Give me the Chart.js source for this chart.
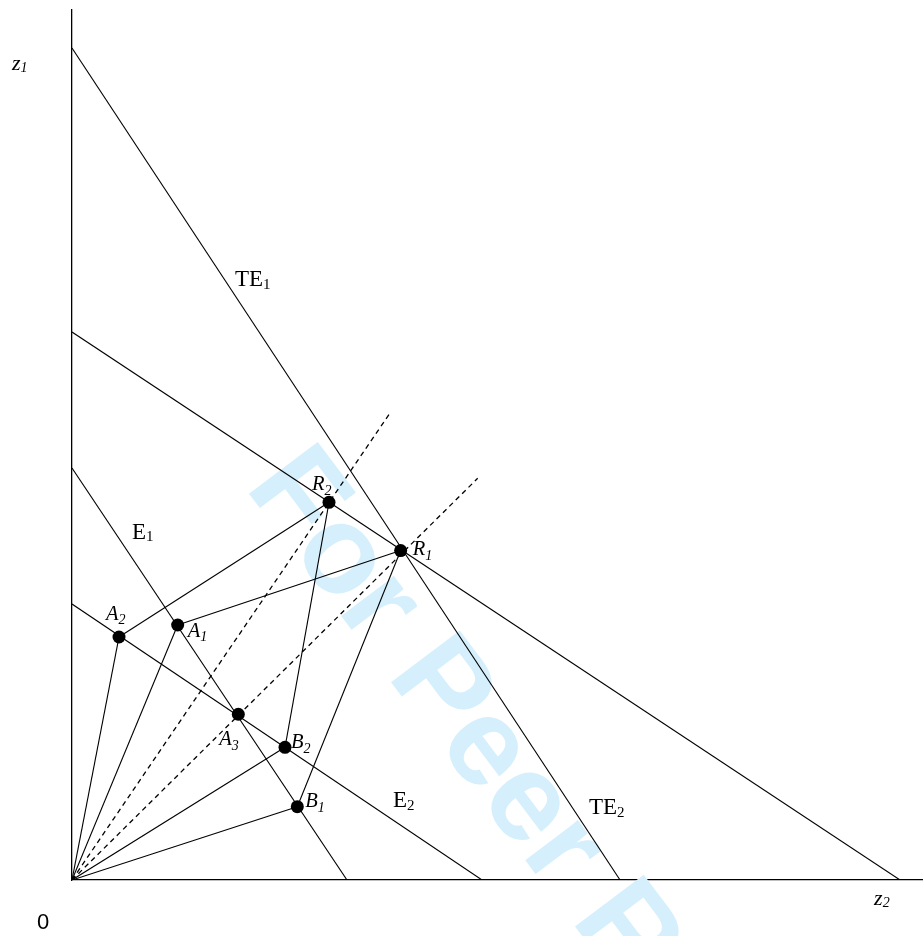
<!DOCTYPE html>
<html><head><meta charset="utf-8">
<script src="https://cdn.jsdelivr.net/npm/chart.js@4.4.0/dist/chart.umd.min.js"></script>
<style>html,body{margin:0;padding:0;background:#fff;} canvas{display:block;}</style>
</head><body>
<canvas id="c" width="923" height="936"></canvas>
<script>
// ---- data (chart units) ----
const pointNames = ['R1', 'R2', 'A1', 'A2', 'A3', 'B1', 'B2'];
const pointX = [3.950, 3.089, 1.270, 0.565, 1.999, 2.708, 2.560];
const pointY = [3.960, 4.540, 3.065, 2.921, 1.992, 0.881, 1.595];

// straight frontier lines given by their axis intercepts
const lineNames = ['TE (steep)', 'TE (flat)', 'E1', 'E2'];
const lineXIntercept = [6.587, 9.952, 3.305, 4.928];
const lineYIntercept = [10.00, 6.587, 4.952, 3.317];

// solid rays from the origin
const raysTo = ['A2', 'A1', 'B2', 'B1'];
// connecting segments
const segFrom = ['A2', 'A1', 'R2', 'R1'];
const segTo = ['R2', 'R1', 'B2', 'B1'];
// dashed rays from the origin (end points)
const dashedX = [3.822, 4.876];
const dashedY = [5.613, 4.828];

// text labels for the lines: main text, subscript, anchor x, anchor y
const lineLabelText = ['TE', 'E', 'E', 'TE'];
const lineLabelSub = ['1', '1', '2', '2'];
const lineLabelX = [1.959, 0.721, 3.858, 6.214];
const lineLabelY = [7.139, 4.099, 0.877, 0.793];

const axisMaxX = 10.228, axisMaxY = 10.457;

// ---- build datasets ----
const P = {};
pointNames.forEach((n, i) => P[n] = {x: pointX[i], y: pointY[i]});

const datasets = [];
const solid = {borderColor: '#000', borderWidth: 1.1, pointRadius: 0, showLine: true, fill: false};
lineNames.forEach((n, i) => {
  datasets.push(Object.assign({label: n, data: [{x: 0, y: lineYIntercept[i]}, {x: lineXIntercept[i], y: 0}]}, solid));
});
raysTo.forEach(n => datasets.push(Object.assign({label: 'ray ' + n, data: [{x: 0, y: 0}, P[n]]}, solid)));
segFrom.forEach((n, i) => datasets.push(Object.assign({label: n + '-' + segTo[i], data: [P[n], P[segTo[i]]]}, solid)));
dashedX.forEach((x, i) => datasets.push({label: 'dashed ' + i, data: [{x: 0, y: 0}, {x: x, y: dashedY[i]}],
  borderColor: '#000', borderWidth: 1.3, borderDash: [5, 4], pointRadius: 0, showLine: true, fill: false}));
datasets.push({label: 'points', data: pointNames.map(n => P[n]), showLine: false,
  pointRadius: 6.5, pointHoverRadius: 6.5, backgroundColor: '#000', borderColor: '#000', borderWidth: 0});

// ---- label placement (pixel offsets from each point) ----
const pointLabelOffset = {
  R1: [12, 4.5], R2: [-17, -12], A1: [10, 12], A2: [-13, -17],
  A3: [-19, 31], B1: [8, 0.5], B2: [6, 1]
};

function drawSubText(ctx, x, y, main, sub, mainFont, subFont, subDy) {
  ctx.font = mainFont;
  ctx.fillText(main, x, y);
  const w = ctx.measureText(main).width;
  ctx.font = subFont;
  ctx.fillText(sub, x + w, y + subDy);
}

const watermark = {
  id: 'watermark',
  beforeDatasetsDraw(chart) {
    const ctx = chart.ctx, xs = chart.scales.x, ys = chart.scales.y;
    ctx.save();
    ctx.translate(xs.getPixelForValue(2.067), ys.getPixelForValue(4.724));
    ctx.rotate(53 * Math.PI / 180);
    ctx.fillStyle = 'rgb(213,240,252)';
    ctx.font = 'bold 125px "Liberation Sans", Arial, sans-serif';
    ctx.textBaseline = 'alphabetic';
    ctx.textAlign = 'left';
    ctx.fillText('For Peer Review', 0, 0);
    ctx.restore();
  }
};

const labels = {
  id: 'labels',
  afterDraw(chart) {
    const ctx = chart.ctx, xs = chart.scales.x, ys = chart.scales.y, a = chart.chartArea;
    ctx.save();
    ctx.fillStyle = '#000';
    ctx.textBaseline = 'alphabetic';
    ctx.textAlign = 'left';
    // point labels
    pointNames.forEach(n => {
      const o = pointLabelOffset[n];
      const px = xs.getPixelForValue(P[n].x) + o[0];
      const py = ys.getPixelForValue(P[n].y) + o[1];
      drawSubText(ctx, px, py, n[0], n.slice(1),
        'italic 20.5px "Liberation Serif", "Times New Roman", serif',
        'italic 14px "Liberation Serif", "Times New Roman", serif', 4.5);
    });
    // line labels
    lineLabelText.forEach((t, i) => {
      drawSubText(ctx, xs.getPixelForValue(lineLabelX[i]), ys.getPixelForValue(lineLabelY[i]), t, lineLabelSub[i],
        '23px "Liberation Serif", "Times New Roman", serif',
        '15px "Liberation Serif", "Times New Roman", serif', 2.5);
    });
    // axis labels
    drawSubText(ctx, a.left - 60, ys.getPixelForValue(9.736), 'z', '1',
      'italic 22px "Liberation Serif", "Times New Roman", serif',
      'italic 14px "Liberation Serif", "Times New Roman", serif', 2);
    drawSubText(ctx, xs.getPixelForValue(9.64), a.bottom + 25, 'z', '2',
      'italic 22px "Liberation Serif", "Times New Roman", serif',
      'italic 14px "Liberation Serif", "Times New Roman", serif', 2);
    ctx.font = '22px "Liberation Sans", Arial, sans-serif';
    ctx.fillText('0', a.left - 35, a.bottom + 49);
    ctx.restore();
  }
};

new Chart(document.getElementById('c'), {
  type: 'scatter',
  data: {datasets},
  plugins: [watermark, labels],
  options: {
    responsive: false,
    animation: false,
    devicePixelRatio: 1,
    layout: {autoPadding: false, padding: {left: 72, right: 0, top: 10, bottom: 56}},
    plugins: {legend: {display: false}, tooltip: {enabled: false}},
    events: [],
    scales: {
      x: {type: 'linear', min: 0, max: axisMaxX,
        grid: {display: false, drawTicks: false},
        border: {display: true, color: '#000', width: 1.3},
        ticks: {display: false}},
      y: {type: 'linear', min: 0, max: axisMaxY,
        grid: {display: false, drawTicks: false},
        border: {display: true, color: '#000', width: 1.3},
        ticks: {display: false}}
    }
  }
});
</script>
</body></html>
